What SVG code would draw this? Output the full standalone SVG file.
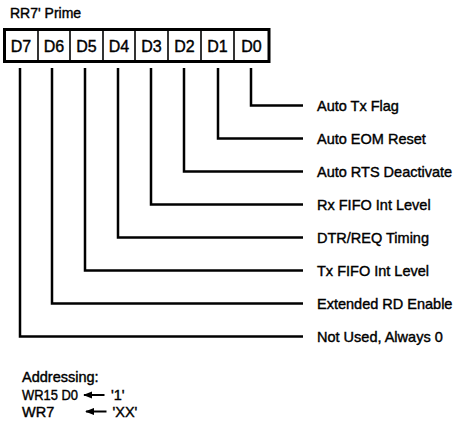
<svg xmlns="http://www.w3.org/2000/svg" width="456" height="423" viewBox="0 0 456 423">
<style>
text{font-family:"Liberation Sans",Arial,sans-serif;fill:#000;stroke:#000;stroke-width:0.4}
.lbl{font-size:14.5px}
.cell{font-size:16px;text-anchor:middle}
.title{font-size:14px}
.conn{fill:none;stroke:#000;stroke-width:2.5;stroke-linejoin:miter;stroke-linecap:butt}
.div{stroke:#000;stroke-width:1.6}
.arr{stroke:#000;stroke-width:2}
</style>
<defs>
<marker id="ah" viewBox="0 0 10 8" refX="9" refY="4" markerWidth="4.5" markerHeight="3.6" orient="auto" markerUnits="strokeWidth">
<path d="M10,4 L0,0 L0,8 Z" fill="#000"/>
</marker>
</defs>
<rect width="456" height="423" fill="#fff"/>
<text class="title" x="10" y="18">RR7' Prime</text>
<g id="register">
<rect x="4.5" y="29.5" width="264.5" height="32" fill="#fff" stroke="#000" stroke-width="3"/>
<line class="div" x1="38" y1="29.5" x2="38" y2="61.5"/>
<line class="div" x1="70" y1="29.5" x2="70" y2="61.5"/>
<line class="div" x1="103" y1="29.5" x2="103" y2="61.5"/>
<line class="div" x1="135" y1="29.5" x2="135" y2="61.5"/>
<line class="div" x1="168" y1="29.5" x2="168" y2="61.5"/>
<line class="div" x1="201" y1="29.5" x2="201" y2="61.5"/>
<line class="div" x1="234" y1="29.5" x2="234" y2="61.5"/>
<g id="D7"><text class="cell" x="21" y="52">D7</text></g>
<g id="D6"><text class="cell" x="54" y="52">D6</text></g>
<g id="D5"><text class="cell" x="86.5" y="52">D5</text></g>
<g id="D4"><text class="cell" x="119" y="52">D4</text></g>
<g id="D3"><text class="cell" x="151.5" y="52">D3</text></g>
<g id="D2"><text class="cell" x="184.5" y="52">D2</text></g>
<g id="D1"><text class="cell" x="217.5" y="52">D1</text></g>
<g id="D0"><text class="cell" x="251.5" y="52">D0</text></g>
</g>
<g id="connectors">
<path class="conn" d="M251,68 V105.5 H303"/>
<path class="conn" d="M218,68 V138.5 H303"/>
<path class="conn" d="M184,68 V171.5 H303"/>
<path class="conn" d="M151,68 V204.5 H303"/>
<path class="conn" d="M118,68 V237.5 H303"/>
<path class="conn" d="M85,68 V270.5 H303"/>
<path class="conn" d="M52,68 V303.5 H303"/>
<path class="conn" d="M20,68 V336.5 H303"/>
</g>
<g id="labels">
<g id="lbl0"><text class="lbl" x="317" y="110.5">Auto Tx Flag</text></g>
<g id="lbl1"><text class="lbl" x="317" y="143.5">Auto EOM Reset</text></g>
<g id="lbl2"><text class="lbl" x="317" y="176.5">Auto RTS Deactivate</text></g>
<g id="lbl3"><text class="lbl" x="317" y="209.5">Rx FIFO Int Level</text></g>
<g id="lbl4"><text class="lbl" x="317" y="242.5">DTR/REQ Timing</text></g>
<g id="lbl5"><text class="lbl" x="317" y="275.5">Tx FIFO Int Level</text></g>
<g id="lbl6"><text class="lbl" x="317" y="308.5">Extended RD Enable</text></g>
<g id="lbl7"><text class="lbl" x="317" y="341.5">Not Used, Always 0</text></g>
</g>
<g id="addressing">
<text class="lbl" x="22" y="382">Addressing:</text>
<text class="lbl" x="22" y="400" textLength="56" lengthAdjust="spacingAndGlyphs">WR15 D0</text>
<text class="lbl" x="22" y="417">WR7</text>
<line class="arr" x1="104.5" y1="395" x2="84" y2="395" marker-end="url(#ah)"/>
<text class="lbl" x="111" y="400">'1'</text>
<line class="arr" x1="106.5" y1="411.5" x2="86" y2="411.5" marker-end="url(#ah)"/>
<text class="lbl" x="112.5" y="417">'XX'</text>
</g>
</svg>
